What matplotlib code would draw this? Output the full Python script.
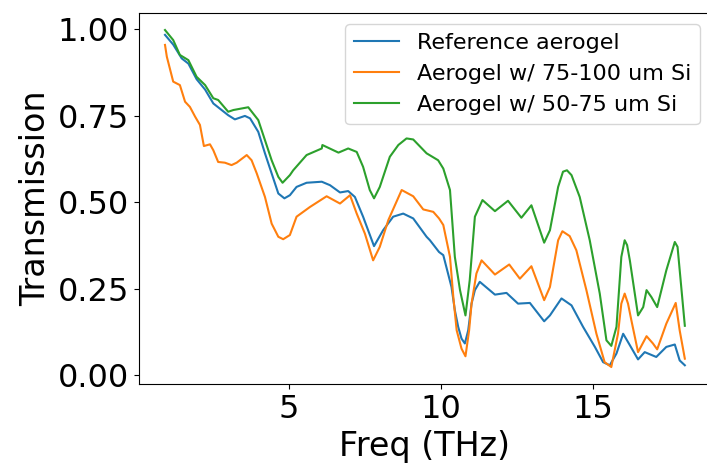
import numpy as np
import matplotlib
matplotlib.use("Agg")
import matplotlib.pyplot as plt

# transmission spectra
freq_ref = [0.92, 1.19, 1.47, 1.69, 1.96, 2.24, 2.51, 3.00, 3.22, 3.55, 3.72, 3.99,
            4.21, 4.43, 4.65, 4.85, 5.03, 5.25, 5.58, 6.08, 6.35, 6.68, 6.95, 7.17,
            7.44, 7.80, 8.10, 8.43, 8.76, 9.09, 9.53, 9.64, 9.94, 10.08, 10.35, 10.46,
            10.57, 10.68, 10.79, 10.90, 11.01, 11.12, 11.28, 11.78, 12.16, 12.54, 12.93,
            13.40, 13.59, 13.97, 14.30, 14.68, 15.07, 15.34, 15.56, 15.78, 16.00, 16.22,
            16.49, 16.71, 17.09, 17.42, 17.70, 17.86, 18.03]
trans_ref = [0.983, 0.955, 0.915, 0.900, 0.855, 0.825, 0.785, 0.751, 0.739, 0.749, 0.742, 0.703,
             0.641, 0.583, 0.525, 0.511, 0.520, 0.544, 0.556, 0.559, 0.549, 0.528, 0.532, 0.515,
             0.458, 0.373, 0.419, 0.458, 0.467, 0.453, 0.400, 0.390, 0.356, 0.347, 0.255, 0.188,
             0.140, 0.106, 0.092, 0.130, 0.207, 0.246, 0.270, 0.233, 0.238, 0.207, 0.209,
             0.156, 0.173, 0.222, 0.202, 0.140, 0.082, 0.038, 0.029, 0.063, 0.120, 0.087,
             0.046, 0.067, 0.053, 0.082, 0.089, 0.043, 0.029]

freq_75 = [0.92, 0.98, 1.19, 1.41, 1.58, 1.74, 1.91, 2.07, 2.20, 2.40, 2.51, 2.67,
           2.89, 3.11, 3.28, 3.61, 3.77, 3.94, 4.21, 4.43, 4.65, 4.81, 5.03, 5.25,
           5.69, 6.24, 6.68, 7.01, 7.23, 7.50, 7.77, 7.99, 8.27, 8.71, 9.09, 9.42,
           9.75, 9.94, 10.08, 10.30, 10.41, 10.52, 10.68, 10.81, 10.93, 11.01, 11.17,
           11.34, 11.78, 12.25, 12.60, 12.98, 13.40, 13.59, 13.86, 14.00, 14.24, 14.46,
           14.79, 15.12, 15.39, 15.61, 15.83, 15.94, 16.05, 16.16, 16.27, 16.49, 16.77,
           16.98, 17.12, 17.42, 17.73, 17.86, 18.03]
trans_75 = [0.954, 0.920, 0.848, 0.838, 0.790, 0.775, 0.747, 0.723, 0.662, 0.667, 0.650, 0.616,
            0.614, 0.607, 0.614, 0.636, 0.621, 0.583, 0.515, 0.438, 0.400, 0.393, 0.405, 0.458,
            0.486, 0.517, 0.496, 0.520, 0.467, 0.409, 0.332, 0.371, 0.448, 0.535, 0.517, 0.479,
            0.472, 0.453, 0.434, 0.342, 0.226, 0.130, 0.077, 0.055, 0.130, 0.207, 0.294,
            0.332, 0.291, 0.320, 0.279, 0.315, 0.217, 0.255, 0.390, 0.416, 0.402, 0.361,
            0.246, 0.120, 0.038, 0.024, 0.120, 0.207, 0.236, 0.207, 0.159, 0.067, 0.113,
            0.092, 0.075, 0.149, 0.209, 0.130, 0.048]

freq_50 = [0.92, 1.19, 1.41, 1.69, 1.96, 2.24, 2.51, 2.67, 3.00, 3.17, 3.66, 3.99,
           4.21, 4.43, 4.65, 4.79, 5.03, 5.14, 5.58, 6.08, 6.10, 6.63, 6.95, 7.23,
           7.44, 7.66, 7.80, 7.99, 8.32, 8.60, 8.87, 9.09, 9.53, 9.91, 10.08, 10.30,
           10.46, 10.63, 10.81, 10.95, 11.12, 11.37, 11.78, 12.21, 12.65, 12.98, 13.40,
           13.59, 13.86, 14.02, 14.15, 14.30, 14.57, 14.90, 15.23, 15.45, 15.61, 15.78,
           15.94, 16.05, 16.13, 16.22, 16.49, 16.66, 16.77, 16.93, 17.12, 17.42, 17.70,
           17.79, 18.03]
trans_50 = [0.997, 0.968, 0.925, 0.910, 0.862, 0.838, 0.800, 0.795, 0.761, 0.766, 0.774, 0.737,
            0.679, 0.621, 0.573, 0.556, 0.578, 0.592, 0.636, 0.655, 0.665, 0.643, 0.655, 0.645,
            0.602, 0.535, 0.511, 0.544, 0.631, 0.665, 0.684, 0.681, 0.641, 0.621, 0.597, 0.535,
            0.342, 0.246, 0.173, 0.275, 0.458, 0.506, 0.474, 0.504, 0.455, 0.491, 0.383,
            0.419, 0.544, 0.588, 0.592, 0.578, 0.515, 0.390, 0.236, 0.101, 0.085, 0.140,
            0.342, 0.390, 0.376, 0.332, 0.173, 0.197, 0.246, 0.226, 0.197, 0.303, 0.385,
            0.371, 0.143]

fig = plt.figure(figsize=(7.07, 4.66), dpi=100)
ax = fig.add_axes([0.1966, 0.176, 0.809, 0.796])  # right spine runs just off the canvas, like the original

ax.plot(freq_ref, trans_ref, label='Reference aerogel')
ax.plot(freq_75, trans_75, label='Aerogel w/ 75-100 um Si')
ax.plot(freq_50, trans_50, label='Aerogel w/ 50-75 um Si')

ax.set_xlim(0.064, 18.89)
ax.set_ylim(-0.025, 1.046)
ax.set_xticks([5, 10, 15])
ax.set_yticks([0.0, 0.25, 0.5, 0.75, 1.0])
ax.tick_params(labelsize=23)
ax.set_xlabel('Freq (THz)', fontsize=24)
ax.set_ylabel('Transmission', fontsize=24)
ax.legend(loc='upper right', fontsize=16)

fig.savefig('out.png', dpi=100)
